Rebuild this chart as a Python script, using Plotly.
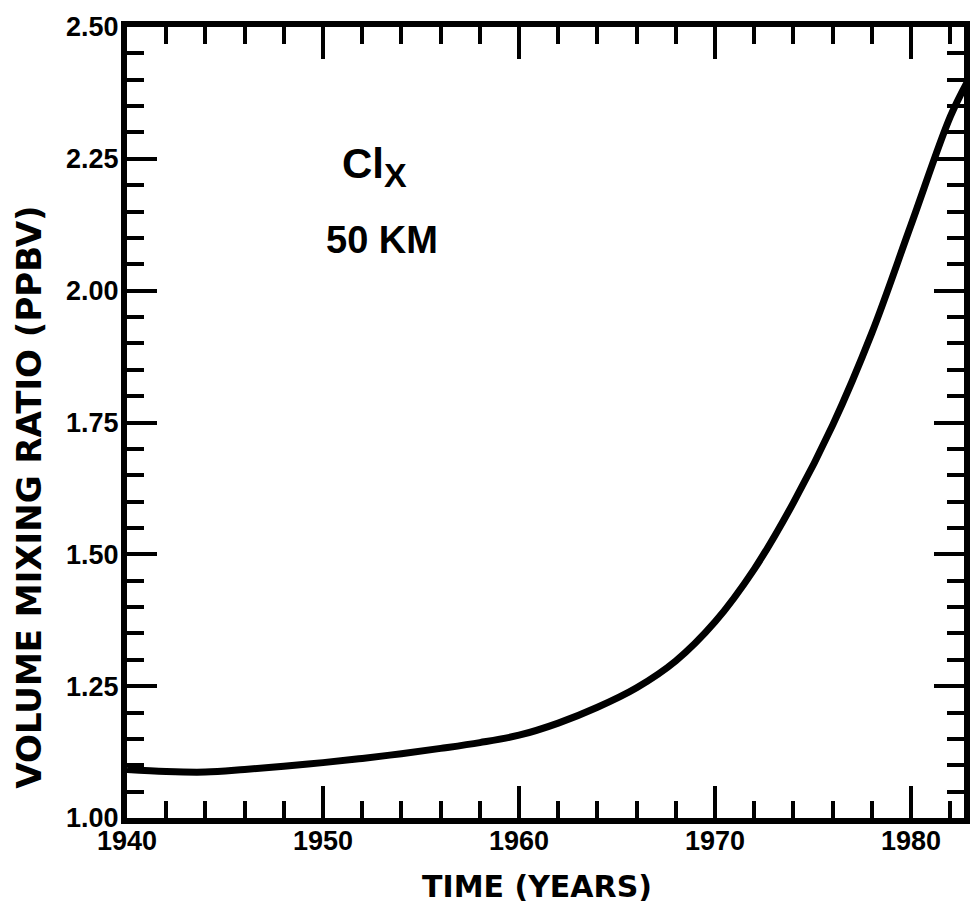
import plotly.graph_objects as go

# Data
years = [1940, 1942, 1944, 1946, 1948, 1950, 1952, 1954, 1956, 1958, 1960,
         1962, 1964, 1966, 1968, 1970, 1972, 1974, 1976, 1978, 1980, 1982, 1982.9]
clx_ppbv = [1.092, 1.088, 1.087, 1.092, 1.098, 1.105, 1.113, 1.122, 1.132, 1.143, 1.157,
            1.180, 1.210, 1.247, 1.298, 1.372, 1.472, 1.598, 1.745, 1.920, 2.125, 2.330, 2.398]

x_ticks = [1940, 1950, 1960, 1970, 1980]
y_ticks = [1.00, 1.25, 1.50, 1.75, 2.00, 2.25, 2.50]

tick_font = dict(family="Liberation Sans", size=27, color="black", weight="bold")
title_font = dict(family="DejaVu Sans", size=30, color="black", weight="bold")

fig = go.Figure()
fig.add_trace(go.Scatter(
    x=years, y=clx_ppbv, mode="lines",
    line=dict(color="black", width=7, shape="spline", smoothing=1.0),
    showlegend=False, hoverinfo="skip",
))

fig.update_layout(
    width=975, height=904,
    margin=dict(l=127, r=5, t=27, b=86),
    paper_bgcolor="white", plot_bgcolor="white",
    xaxis=dict(
        range=[1940, 1982.7], tickvals=x_ticks, ticks="inside", ticklen=32, tickwidth=4,
        tickcolor="black", showline=True, linewidth=6, linecolor="black", mirror="ticks",
        showgrid=False, zeroline=False, tickfont=tick_font, ticklabelstandoff=-6,
        minor=dict(dtick=2, ticks="inside", ticklen=17, tickwidth=4, tickcolor="black", showgrid=False),
    ),
    yaxis=dict(
        range=[1.0, 2.5], tickvals=y_ticks, tickformat=".2f", ticks="inside", ticklen=30, tickwidth=4,
        tickcolor="black", showline=True, linewidth=6, linecolor="black", mirror="ticks",
        showgrid=False, zeroline=False, tickfont=tick_font, ticklabelstandoff=-3,
        minor=dict(dtick=0.05, ticks="inside", ticklen=17, tickwidth=4, tickcolor="black", showgrid=False),
    ),
    annotations=[
        dict(text="TIME (YEARS)", xref="paper", yref="paper", x=0.490, y=-0.087,
             xanchor="center", yanchor="middle", showarrow=False, font=title_font),
        dict(text="VOLUME MIXING RATIO (PPBV)", xref="paper", yref="paper", x=-0.117, y=0.405,
             xanchor="center", yanchor="middle", textangle=-90, showarrow=False,
             font=dict(family="DejaVu Sans", size=34, color="black", weight="bold")),
        dict(text="Cl<sub><span style='font-size:34px'>X</span></sub>", xref="paper", yref="paper",
             x=0.254, y=0.860, xanchor="left", yanchor="top", showarrow=False,
             font=dict(family="Liberation Sans", size=42, color="black", weight="bold")),
        dict(text="50 KM", xref="paper", yref="paper", x=0.305, y=0.731,
             xanchor="center", yanchor="middle", showarrow=False,
             font=dict(family="Liberation Sans", size=38, color="black", weight="bold")),
    ],
)

# remove the default page margin and scrollbars so the figure fills the window exactly
fig.write_html(
    "out.html",
    config={"displayModeBar": False},
    post_script="document.body.style.margin='0';document.body.style.overflow='hidden';"
                "document.documentElement.style.overflow='hidden';",
)
